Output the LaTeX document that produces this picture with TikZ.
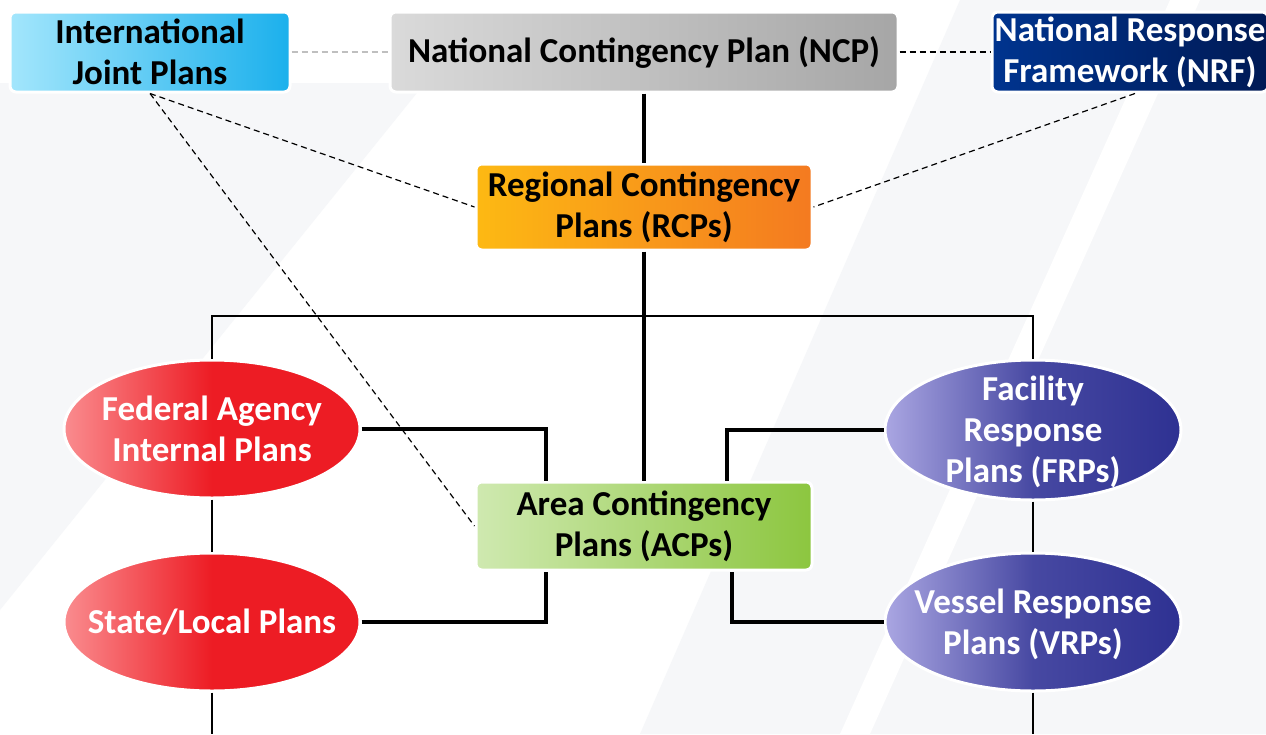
\documentclass[tikz,border=0pt]{standalone}
\usepackage{fontspec}
\setmainfont{Carlito}
\usetikzlibrary{shapes.geometric}

\definecolor{bgGray}{RGB}{246,247,249}
\definecolor{ijpLeft}{RGB}{163,230,252}
\definecolor{ijpRight}{RGB}{27,176,236}
\definecolor{ncpLeft}{RGB}{218,218,218}
\definecolor{ncpRight}{RGB}{166,166,166}
\definecolor{nrfLeft}{RGB}{0,52,143}
\definecolor{nrfRight}{RGB}{0,26,85}
\definecolor{rcpLeft}{RGB}{253,185,19}
\definecolor{rcpRight}{RGB}{244,122,32}
\definecolor{acpLeft}{RGB}{207,233,176}
\definecolor{acpRight}{RGB}{140,198,63}
\definecolor{redLeft}{RGB}{250,140,143}
\definecolor{redRight}{RGB}{237,28,36}
\definecolor{blueLeft}{RGB}{170,166,226}
\definecolor{blueRight}{RGB}{46,49,146}

\tikzset{
  every picture/.style={line width=0.75pt},
  planbox/.style={rectangle, rounded corners=6pt, draw=white, line width=3pt,
    inner sep=0pt, align=center, font=\fontsize{35}{41}\selectfont\bfseries},
  planoval/.style={ellipse, draw=white, line width=3pt, inner sep=0pt,
    minimum width=296pt, minimum height=138pt},
  ovaltext/.style={align=center, text=white, inner sep=0pt,
    font=\fontsize{35}{41}\selectfont\bfseries},
  redoval/.style={planoval, left color=redLeft, right color=redRight, middle color=redRight},
  blueoval/.style={planoval, left color=blueLeft, right color=blueRight, middle color=blueRight!80!blueLeft},
  trunk/.style={line width=3.5pt},
  bus/.style={line width=2pt},
  link/.style={line width=1.2pt, dash pattern=on 6pt off 4pt},
}

\begin{document}
\begin{tikzpicture}[x=1pt,y=1pt,yscale=-1,xscale=1]
	\useasboundingbox (0,0) rectangle (1266,734);
	\clip (0,0) rectangle (1266,734);
	\fill[white] (0,0) rectangle (1266,734);

	%Shape: background bands
	\fill[bgGray] (0,83) -- (425,83) -- (0,610) -- cycle ;
	\fill[bgGray] (640,734) -- (960,0) -- (1266,0) -- (1266,734) -- cycle ;
	\fill[white] (840,734) -- (1170,0) -- (1200,0) -- (870,734) -- cycle ;

	% Rounded boxes
	\node[planbox, minimum width=280pt, minimum height=80pt, left color=ijpLeft, right color=ijpRight] (ijp) at (150,52) {International\\Joint Plans};
	\node[planbox, minimum width=508pt, minimum height=80pt, left color=ncpLeft, right color=ncpRight] (ncp) at (644,52) {National Contingency Plan (NCP)};
	\node[planbox, minimum width=276pt, minimum height=80pt, left color=nrfLeft, right color=nrfRight, text=white] (nrf) at (1130,52) {National Response\\Framework (NRF)};
	\node[planbox, minimum width=336pt, minimum height=86pt, left color=rcpLeft, right color=rcpRight] (rcp) at (644,207) {Regional Contingency\\Plans (RCPs)};
	\node[planbox, minimum width=336pt, minimum height=88pt, left color=acpLeft, right color=acpRight] (acp) at (644,526) {Area Contingency\\Plans (ACPs)};

	% Ellipses
	\node[redoval] (fed) at (212,429) {};
	\node[ovaltext] (fedText) at (fed) {Federal Agency\\Internal Plans};
	\node[redoval] (sta) at (212,622) {};
	\node[ovaltext] (staText) at (sta) {State/Local Plans};
	\node[blueoval, minimum height=140pt] (frp) at (1033,430) {};
	\node[ovaltext] (frpText) at ([yshift=2pt]frp.center) {Facility\\Response\\Plans (FRPs)};
	\node[blueoval] (vrp) at (1033,622) {};
	\node[ovaltext] (vrpText) at ([yshift=2pt]vrp.center) {Vessel Response\\Plans (VRPs)};

	\coordinate (busL) at (212,316);
	\coordinate (busR) at (1033,316);
	\coordinate (staEnd) at (212,734);
	\coordinate (vrpEnd) at (1033,734);

	%Straight Lines
	\draw[trunk] (ncp) -- (rcp);
	\draw[trunk] (rcp) -- (acp);
	\draw[bus] (fed) -- (busL) -- (busR) -- (frp);
	\draw[bus] (fed) -- (sta);
	\draw[bus] (sta) -- (staEnd);
	\draw[bus] (frp) -- (vrp);
	\draw[bus] (vrp) -- (vrpEnd);
	\draw[trunk] (fed.east) -| ([xshift=-98pt]acp.north);
	\draw[trunk] (sta.east) -| ([xshift=-98pt]acp.south);
	\draw[trunk] (frp.west) -| ([xshift=83pt]acp.north);
	\draw[trunk] (vrp.west) -| ([xshift=88pt]acp.south);

	%Dashed Lines
	\draw[link, black!25] (ijp) -- (ncp);
	\draw[link] (ncp) -- (nrf);
	\draw[link] (ijp.south) -- (rcp.west);
	\draw[link] (ijp.south) -- (acp.west);
	\draw[link] ([xshift=5pt]nrf.south) -- (rcp.east);

\end{tikzpicture}
\end{document}
